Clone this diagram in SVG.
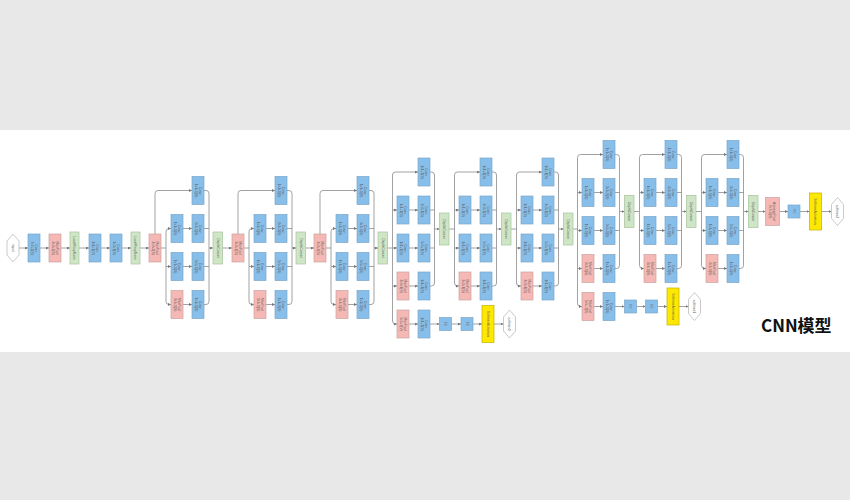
<svg xmlns="http://www.w3.org/2000/svg" width="850" height="500" viewBox="0 0 850 500">
<defs>
<style>
.b{fill:#88bfea;stroke:#7aa6c8;stroke-width:0.7}
.p{fill:#f6b8b4;stroke:#c9a3a1;stroke-width:0.7}
.g{fill:#cfe6c6;stroke:#a6c29a;stroke-width:0.7}
.y{fill:#ffe800;stroke:#c2b000;stroke-width:0.7}
.h{fill:#ffffff;stroke:#bdbdbd;stroke-width:0.8}
.t{font-family:"Liberation Sans",Arial,sans-serif;font-size:3.3px;fill:#5c5c5c;text-anchor:middle}
.c{fill:none;stroke:#8a8a8a;stroke-width:0.8}
.a{fill:none;stroke:#8a8a8a;stroke-width:0.8;marker-end:url(#ar)}
</style>
<marker id="ar" viewBox="0 0 6 6" refX="6" refY="3" markerWidth="3" markerHeight="3" orient="auto" markerUnits="userSpaceOnUse"><path d="M0,0 L6,3 L0,6 z" fill="#777"/></marker>
</defs>
<rect x="0" y="0" width="850" height="500" fill="#e8e8e8"/>
<rect x="0" y="130" width="850" height="222" fill="#ffffff"/>

<g id="connectors">
<path class="a" d="M19,248 H28"/><path class="a" d="M40,248 H49"/><path class="a" d="M61,248 H70"/><path class="a" d="M79,248 H89"/><path class="a" d="M101,248 H110"/><path class="a" d="M122,248 H131"/><path class="a" d="M140,248 H149"/>
<path class="a" d="M155,234 V193.5 Q155,190.5 158,190.5 H192"/>
<path class="a" d="M161,248 H166 V231.5 Q166,228.5 169,228.5 H171"/>
<path class="a" d="M166,248 V301.5 Q166,304.5 169,304.5 H171"/>
<path class="a" d="M166,266.5 H171"/>
<path class="a" d="M183,228.5 H192"/><path class="a" d="M183,266.5 H192"/><path class="a" d="M183,304.5 H192"/>
<path class="a" d="M204,190.5 H206 Q209,190.5 209,193.5 V248 H213"/>
<path class="c" d="M204,304.5 H206 Q209,304.5 209,301.5 V248"/>
<path class="c" d="M204,228.5 H209 M204,266.5 H209"/>
<path class="a" d="M222.5,248 H232"/>
<path class="a" d="M238,234 V193.5 Q238,190.5 241,190.5 H275"/>
<path class="a" d="M244,248 H249 V231.5 Q249,228.5 252,228.5 H254"/>
<path class="a" d="M249,248 V301.5 Q249,304.5 252,304.5 H254"/>
<path class="a" d="M249,266.5 H254"/>
<path class="a" d="M266,228.5 H275"/><path class="a" d="M266,266.5 H275"/><path class="a" d="M266,304.5 H275"/>
<path class="a" d="M287,190.5 H289 Q292,190.5 292,193.5 V248 H296"/>
<path class="c" d="M287,304.5 H289 Q292,304.5 292,301.5 V248"/>
<path class="c" d="M287,228.5 H292 M287,266.5 H292"/>
<path class="a" d="M305.5,248 H314"/>
<path class="a" d="M320,234 V193.5 Q320,190.5 323,190.5 H357"/>
<path class="a" d="M326,248 H331 V231.5 Q331,228.5 334,228.5 H336"/>
<path class="a" d="M331,248 V301.5 Q331,304.5 334,304.5 H336"/>
<path class="a" d="M331,266.5 H336"/>
<path class="a" d="M348,228.5 H357"/><path class="a" d="M348,266.5 H357"/><path class="a" d="M348,304.5 H357"/>
<path class="a" d="M369,190.5 H371 Q374,190.5 374,193.5 V248 H378"/>
<path class="c" d="M369,304.5 H371 Q374,304.5 374,301.5 V248"/>
<path class="c" d="M369,228.5 H374 M369,266.5 H374"/>
<path class="a" d="M387.5,248 H397"/>
<path class="a" d="M392.5,248 V175 Q392.5,172 395.5,172 H418"/>
<path class="a" d="M392.5,248 V321 Q392.5,324 395.5,324 H397"/>
<path class="a" d="M392.5,210 H397"/><path class="a" d="M392.5,286 H397"/>
<path class="a" d="M409,210 H418"/><path class="a" d="M409,248 H418"/><path class="a" d="M409,286 H418"/><path class="a" d="M409,324 H418"/>
<path class="a" d="M430,172 H431.5 Q434.5,172 434.5,175 V229 H439.5"/>
<path class="c" d="M430,286 H431.5 Q434.5,286 434.5,283 V229"/>
<path class="c" d="M430,210 H434.5 M430,248 H434.5"/>
<path class="a" d="M430,324 H439.5"/><path class="a" d="M451.5,324 H461"/><path class="a" d="M473,324 H482"/><path class="a" d="M494,324 H503.5"/>
<path class="c" d="M449,229 H454.5"/>
<path class="a" d="M454.5,229 V175 Q454.5,172 457.5,172 H480"/>
<path class="a" d="M454.5,229 V283 Q454.5,286 457.5,286 H459"/>
<path class="a" d="M454.5,210 H459"/><path class="a" d="M454.5,248 H459"/>
<path class="a" d="M471,210 H480"/><path class="a" d="M471,248 H480"/><path class="a" d="M471,286 H480"/>
<path class="a" d="M492,172 H493.5 Q496.5,172 496.5,175 V229 H501.5"/>
<path class="c" d="M492,286 H493.5 Q496.5,286 496.5,283 V229"/>
<path class="c" d="M492,210 H496.5 M492,248 H496.5"/>
<path class="c" d="M511,229 H516.5"/>
<path class="a" d="M516.5,229 V175 Q516.5,172 519.5,172 H542"/>
<path class="a" d="M516.5,229 V283 Q516.5,286 519.5,286 H521"/>
<path class="a" d="M516.5,210 H521"/><path class="a" d="M516.5,248 H521"/>
<path class="a" d="M533,210 H542"/><path class="a" d="M533,248 H542"/><path class="a" d="M533,286 H542"/>
<path class="a" d="M554,172 H555.5 Q558.5,172 558.5,175 V229 H563.5"/>
<path class="c" d="M554,286 H555.5 Q558.5,286 558.5,283 V229"/>
<path class="c" d="M554,210 H558.5 M554,248 H558.5"/>
<path class="c" d="M573,229 H577.5"/>
<path class="a" d="M577.5,229 V157.5 Q577.5,154.5 580.5,154.5 H603"/>
<path class="a" d="M577.5,229 V303.5 Q577.5,306.5 580.5,306.5 H582"/>
<path class="a" d="M577.5,192.5 H582"/><path class="a" d="M577.5,230.5 H582"/><path class="a" d="M577.5,268.5 H582"/>
<path class="a" d="M594,192.5 H603"/><path class="a" d="M594,230.5 H603"/><path class="a" d="M594,268.5 H603"/><path class="a" d="M594,306.5 H603"/>
<path class="a" d="M615,154.5 H616.5 Q619.5,154.5 619.5,157.5 V211.5 H624.5"/>
<path class="c" d="M615,268.5 H616.5 Q619.5,268.5 619.5,265.5 V211.5"/>
<path class="c" d="M615,192.5 H619.5 M615,230.5 H619.5"/>
<path class="a" d="M615,306.5 H624.5"/><path class="a" d="M636.5,306.5 H645.5"/><path class="a" d="M657.5,306.5 H667"/><path class="a" d="M679,306.5 H688.5"/>
<path class="c" d="M634,211.5 H639.5"/>
<path class="a" d="M639.5,211.5 V157.5 Q639.5,154.5 642.5,154.5 H665"/>
<path class="a" d="M639.5,211.5 V265.5 Q639.5,268.5 642.5,268.5 H644"/>
<path class="a" d="M639.5,192.5 H644"/><path class="a" d="M639.5,230.5 H644"/>
<path class="a" d="M656,192.5 H665"/><path class="a" d="M656,230.5 H665"/><path class="a" d="M656,268.5 H665"/>
<path class="a" d="M677,154.5 H678.5 Q681.5,154.5 681.5,157.5 V211.5 H686.5"/>
<path class="c" d="M677,268.5 H678.5 Q681.5,268.5 681.5,265.5 V211.5"/>
<path class="c" d="M677,192.5 H681.5 M677,230.5 H681.5"/>
<path class="c" d="M696,211.5 H701.5"/>
<path class="a" d="M701.5,211.5 V157.5 Q701.5,154.5 704.5,154.5 H727"/>
<path class="a" d="M701.5,211.5 V265.5 Q701.5,268.5 704.5,268.5 H706"/>
<path class="a" d="M701.5,192.5 H706"/><path class="a" d="M701.5,230.5 H706"/>
<path class="a" d="M718,192.5 H727"/><path class="a" d="M718,230.5 H727"/><path class="a" d="M718,268.5 H727"/>
<path class="a" d="M739,154.5 H740.5 Q743.5,154.5 743.5,157.5 V211.5 H748.5"/>
<path class="c" d="M739,268.5 H740.5 Q743.5,268.5 743.5,265.5 V211.5"/>
<path class="c" d="M739,192.5 H743.5 M739,230.5 H743.5"/>
<path class="a" d="M758,211.5 H765.5"/><path class="a" d="M779.5,211.5 H788"/><path class="a" d="M800,211.5 H809.5"/><path class="a" d="M821.5,211.5 H831.5"/>
</g>

<g id="input"><polygon class="h" points="7,241 13,234 19,241 19,255 13,262 7,255"/><text class="t" transform="translate(13,248) rotate(90)" y="1.2">input</text></g>
<g id="conv1"><rect class="b" x="28" y="234" width="12" height="28"/><text class="t" transform="translate(34,248) rotate(90)"><tspan x="0" y="-0.7">Conv</tspan><tspan x="0" y="3.3">7x7+2(S)</tspan></text></g>
<g id="pool1"><rect class="p" x="49" y="234" width="12" height="28"/><text class="t" transform="translate(55,248) rotate(90)"><tspan x="0" y="-0.7">MaxPool</tspan><tspan x="0" y="3.3">3x3+2(S)</tspan></text></g>
<g id="lrn1"><rect class="g" x="70" y="232" width="9" height="32"/><text class="t" transform="translate(74.5,248) rotate(90)" y="1.2">LocalRespNorm</text></g>
<g id="conv2"><rect class="b" x="89" y="234" width="12" height="28"/><text class="t" transform="translate(95,248) rotate(90)"><tspan x="0" y="-0.7">Conv</tspan><tspan x="0" y="3.3">1x1+1(V)</tspan></text></g>
<g id="conv3"><rect class="b" x="110" y="234" width="12" height="28"/><text class="t" transform="translate(116,248) rotate(90)"><tspan x="0" y="-0.7">Conv</tspan><tspan x="0" y="3.3">3x3+1(S)</tspan></text></g>
<g id="lrn2"><rect class="g" x="131" y="232" width="9" height="32"/><text class="t" transform="translate(135.5,248) rotate(90)" y="1.2">LocalRespNorm</text></g>

<g id="pool2"><rect class="p" x="149" y="234" width="12" height="28"/><text class="t" transform="translate(155,248) rotate(90)"><tspan x="0" y="-0.7">MaxPool</tspan><tspan x="0" y="3.3">3x3+2(S)</tspan></text></g>
<g id="a_top"><rect class="b" x="192" y="176.5" width="12" height="28"/><text class="t" transform="translate(198,190.5) rotate(90)"><tspan x="0" y="-0.7">Conv</tspan><tspan x="0" y="3.3">1x1+1(S)</tspan></text></g>
<g id="a_r1a"><rect class="b" x="171" y="214.5" width="12" height="28"/><text class="t" transform="translate(177,228.5) rotate(90)"><tspan x="0" y="-0.7">Conv</tspan><tspan x="0" y="3.3">1x1+1(S)</tspan></text></g>
<g id="a_r1b"><rect class="b" x="192" y="214.5" width="12" height="28"/><text class="t" transform="translate(198,228.5) rotate(90)"><tspan x="0" y="-0.7">Conv</tspan><tspan x="0" y="3.3">3x3+1(S)</tspan></text></g>
<g id="a_r2a"><rect class="b" x="171" y="252.5" width="12" height="28"/><text class="t" transform="translate(177,266.5) rotate(90)"><tspan x="0" y="-0.7">Conv</tspan><tspan x="0" y="3.3">1x1+1(S)</tspan></text></g>
<g id="a_r2b"><rect class="b" x="192" y="252.5" width="12" height="28"/><text class="t" transform="translate(198,266.5) rotate(90)"><tspan x="0" y="-0.7">Conv</tspan><tspan x="0" y="3.3">5x5+1(S)</tspan></text></g>
<g id="a_r3a"><rect class="p" x="171" y="290.5" width="12" height="28"/><text class="t" transform="translate(177,304.5) rotate(90)"><tspan x="0" y="-0.7">MaxPool</tspan><tspan x="0" y="3.3">3x3+1(S)</tspan></text></g>
<g id="a_r3b"><rect class="b" x="192" y="290.5" width="12" height="28"/><text class="t" transform="translate(198,304.5) rotate(90)"><tspan x="0" y="-0.7">Conv</tspan><tspan x="0" y="3.3">1x1+1(S)</tspan></text></g>
<g id="a_cat"><rect class="g" x="213" y="232" width="9.5" height="32"/><text class="t" transform="translate(217.75,248) rotate(90)" y="1.2">DepthConcat</text></g>

<g id="pool3"><rect class="p" x="232" y="234" width="12" height="28"/><text class="t" transform="translate(238,248) rotate(90)"><tspan x="0" y="-0.7">MaxPool</tspan><tspan x="0" y="3.3">3x3+2(S)</tspan></text></g>
<g id="b_top"><rect class="b" x="275" y="176.5" width="12" height="28"/><text class="t" transform="translate(281,190.5) rotate(90)"><tspan x="0" y="-0.7">Conv</tspan><tspan x="0" y="3.3">1x1+1(S)</tspan></text></g>
<g id="b_r1a"><rect class="b" x="254" y="214.5" width="12" height="28"/><text class="t" transform="translate(260,228.5) rotate(90)"><tspan x="0" y="-0.7">Conv</tspan><tspan x="0" y="3.3">1x1+1(S)</tspan></text></g>
<g id="b_r1b"><rect class="b" x="275" y="214.5" width="12" height="28"/><text class="t" transform="translate(281,228.5) rotate(90)"><tspan x="0" y="-0.7">Conv</tspan><tspan x="0" y="3.3">3x3+1(S)</tspan></text></g>
<g id="b_r2a"><rect class="b" x="254" y="252.5" width="12" height="28"/><text class="t" transform="translate(260,266.5) rotate(90)"><tspan x="0" y="-0.7">Conv</tspan><tspan x="0" y="3.3">1x1+1(S)</tspan></text></g>
<g id="b_r2b"><rect class="b" x="275" y="252.5" width="12" height="28"/><text class="t" transform="translate(281,266.5) rotate(90)"><tspan x="0" y="-0.7">Conv</tspan><tspan x="0" y="3.3">5x5+1(S)</tspan></text></g>
<g id="b_r3a"><rect class="p" x="254" y="290.5" width="12" height="28"/><text class="t" transform="translate(260,304.5) rotate(90)"><tspan x="0" y="-0.7">MaxPool</tspan><tspan x="0" y="3.3">3x3+1(S)</tspan></text></g>
<g id="b_r3b"><rect class="b" x="275" y="290.5" width="12" height="28"/><text class="t" transform="translate(281,304.5) rotate(90)"><tspan x="0" y="-0.7">Conv</tspan><tspan x="0" y="3.3">1x1+1(S)</tspan></text></g>
<g id="b_cat"><rect class="g" x="296" y="232" width="9.5" height="32"/><text class="t" transform="translate(300.75,248) rotate(90)" y="1.2">DepthConcat</text></g>

<g id="pool4"><rect class="p" x="314" y="234" width="12" height="28"/><text class="t" transform="translate(320,248) rotate(90)"><tspan x="0" y="-0.7">MaxPool</tspan><tspan x="0" y="3.3">3x3+2(S)</tspan></text></g>
<g id="c_top"><rect class="b" x="357" y="176.5" width="12" height="28"/><text class="t" transform="translate(363,190.5) rotate(90)"><tspan x="0" y="-0.7">Conv</tspan><tspan x="0" y="3.3">1x1+1(S)</tspan></text></g>
<g id="c_r1a"><rect class="b" x="336" y="214.5" width="12" height="28"/><text class="t" transform="translate(342,228.5) rotate(90)"><tspan x="0" y="-0.7">Conv</tspan><tspan x="0" y="3.3">1x1+1(S)</tspan></text></g>
<g id="c_r1b"><rect class="b" x="357" y="214.5" width="12" height="28"/><text class="t" transform="translate(363,228.5) rotate(90)"><tspan x="0" y="-0.7">Conv</tspan><tspan x="0" y="3.3">3x3+1(S)</tspan></text></g>
<g id="c_r2a"><rect class="b" x="336" y="252.5" width="12" height="28"/><text class="t" transform="translate(342,266.5) rotate(90)"><tspan x="0" y="-0.7">Conv</tspan><tspan x="0" y="3.3">1x1+1(S)</tspan></text></g>
<g id="c_r2b"><rect class="b" x="357" y="252.5" width="12" height="28"/><text class="t" transform="translate(363,266.5) rotate(90)"><tspan x="0" y="-0.7">Conv</tspan><tspan x="0" y="3.3">5x5+1(S)</tspan></text></g>
<g id="c_r3a"><rect class="p" x="336" y="290.5" width="12" height="28"/><text class="t" transform="translate(342,304.5) rotate(90)"><tspan x="0" y="-0.7">MaxPool</tspan><tspan x="0" y="3.3">3x3+1(S)</tspan></text></g>
<g id="c_r3b"><rect class="b" x="357" y="290.5" width="12" height="28"/><text class="t" transform="translate(363,304.5) rotate(90)"><tspan x="0" y="-0.7">Conv</tspan><tspan x="0" y="3.3">1x1+1(S)</tspan></text></g>
<g id="c_cat"><rect class="g" x="378" y="232" width="9.5" height="32"/><text class="t" transform="translate(382.75,248) rotate(90)" y="1.2">DepthConcat</text></g>

<g id="d_top"><rect class="b" x="418" y="158" width="12" height="28"/><text class="t" transform="translate(424,172) rotate(90)"><tspan x="0" y="-0.7">Conv</tspan><tspan x="0" y="3.3">1x1+1(S)</tspan></text></g>
<g id="d_r1a"><rect class="b" x="397" y="196" width="12" height="28"/><text class="t" transform="translate(403,210) rotate(90)"><tspan x="0" y="-0.7">Conv</tspan><tspan x="0" y="3.3">1x1+1(S)</tspan></text></g>
<g id="d_r1b"><rect class="b" x="418" y="196" width="12" height="28"/><text class="t" transform="translate(424,210) rotate(90)"><tspan x="0" y="-0.7">Conv</tspan><tspan x="0" y="3.3">3x3+1(S)</tspan></text></g>
<g id="d_r2a"><rect class="b" x="397" y="234" width="12" height="28"/><text class="t" transform="translate(403,248) rotate(90)"><tspan x="0" y="-0.7">Conv</tspan><tspan x="0" y="3.3">1x1+1(S)</tspan></text></g>
<g id="d_r2b"><rect class="b" x="418" y="234" width="12" height="28"/><text class="t" transform="translate(424,248) rotate(90)"><tspan x="0" y="-0.7">Conv</tspan><tspan x="0" y="3.3">5x5+1(S)</tspan></text></g>
<g id="d_r3a"><rect class="p" x="397" y="272" width="12" height="28"/><text class="t" transform="translate(403,286) rotate(90)"><tspan x="0" y="-0.7">MaxPool</tspan><tspan x="0" y="3.3">3x3+1(S)</tspan></text></g>
<g id="d_r3b"><rect class="b" x="418" y="272" width="12" height="28"/><text class="t" transform="translate(424,286) rotate(90)"><tspan x="0" y="-0.7">Conv</tspan><tspan x="0" y="3.3">1x1+1(S)</tspan></text></g>
<g id="d_auxpool"><rect class="p" x="397" y="310" width="12" height="28"/><text class="t" transform="translate(403,324) rotate(90)"><tspan x="0" y="-0.7">MaxPool</tspan><tspan x="0" y="3.3">5x5+3(V)</tspan></text></g>
<g id="d_auxconv"><rect class="b" x="418" y="310" width="12" height="28"/><text class="t" transform="translate(424,324) rotate(90)"><tspan x="0" y="-0.7">Conv</tspan><tspan x="0" y="3.3">1x1+1(S)</tspan></text></g>
<g id="d_fc1"><rect class="b" x="439.5" y="317.5" width="12" height="13"/><text class="t" transform="translate(445.5,324) rotate(90)" y="1.2">FC</text></g>
<g id="d_fc2"><rect class="b" x="461" y="317.5" width="12" height="13"/><text class="t" transform="translate(467,324) rotate(90)" y="1.2">FC</text></g>
<g id="d_sm"><rect class="y" x="482" y="305.5" width="12" height="37"/><text class="t" transform="translate(488,324) rotate(90)" y="1.2">SoftmaxActivation</text></g>
<g id="softmax0"><polygon class="h" points="503.5,317 509.5,310 515.5,317 515.5,331 509.5,338 503.5,331"/><text class="t" transform="translate(509.5,324) rotate(90)" y="1.2">softmax0</text></g>
<g id="d_cat"><rect class="g" x="439.5" y="213" width="9.5" height="32"/><text class="t" transform="translate(444.25,229) rotate(90)" y="1.2">DepthConcat</text></g>

<g id="e_top"><rect class="b" x="480" y="158" width="12" height="28"/><text class="t" transform="translate(486,172) rotate(90)"><tspan x="0" y="-0.7">Conv</tspan><tspan x="0" y="3.3">1x1+1(S)</tspan></text></g>
<g id="e_r1a"><rect class="b" x="459" y="196" width="12" height="28"/><text class="t" transform="translate(465,210) rotate(90)"><tspan x="0" y="-0.7">Conv</tspan><tspan x="0" y="3.3">1x1+1(S)</tspan></text></g>
<g id="e_r1b"><rect class="b" x="480" y="196" width="12" height="28"/><text class="t" transform="translate(486,210) rotate(90)"><tspan x="0" y="-0.7">Conv</tspan><tspan x="0" y="3.3">3x3+1(S)</tspan></text></g>
<g id="e_r2a"><rect class="b" x="459" y="234" width="12" height="28"/><text class="t" transform="translate(465,248) rotate(90)"><tspan x="0" y="-0.7">Conv</tspan><tspan x="0" y="3.3">1x1+1(S)</tspan></text></g>
<g id="e_r2b"><rect class="b" x="480" y="234" width="12" height="28"/><text class="t" transform="translate(486,248) rotate(90)"><tspan x="0" y="-0.7">Conv</tspan><tspan x="0" y="3.3">5x5+1(S)</tspan></text></g>
<g id="e_r3a"><rect class="p" x="459" y="272" width="12" height="28"/><text class="t" transform="translate(465,286) rotate(90)"><tspan x="0" y="-0.7">MaxPool</tspan><tspan x="0" y="3.3">3x3+1(S)</tspan></text></g>
<g id="e_r3b"><rect class="b" x="480" y="272" width="12" height="28"/><text class="t" transform="translate(486,286) rotate(90)"><tspan x="0" y="-0.7">Conv</tspan><tspan x="0" y="3.3">1x1+1(S)</tspan></text></g>
<g id="e_cat"><rect class="g" x="501.5" y="213" width="9.5" height="32"/><text class="t" transform="translate(506.25,229) rotate(90)" y="1.2">DepthConcat</text></g>

<g id="f_top"><rect class="b" x="542" y="158" width="12" height="28"/><text class="t" transform="translate(548,172) rotate(90)"><tspan x="0" y="-0.7">Conv</tspan><tspan x="0" y="3.3">1x1+1(S)</tspan></text></g>
<g id="f_r1a"><rect class="b" x="521" y="196" width="12" height="28"/><text class="t" transform="translate(527,210) rotate(90)"><tspan x="0" y="-0.7">Conv</tspan><tspan x="0" y="3.3">1x1+1(S)</tspan></text></g>
<g id="f_r1b"><rect class="b" x="542" y="196" width="12" height="28"/><text class="t" transform="translate(548,210) rotate(90)"><tspan x="0" y="-0.7">Conv</tspan><tspan x="0" y="3.3">3x3+1(S)</tspan></text></g>
<g id="f_r2a"><rect class="b" x="521" y="234" width="12" height="28"/><text class="t" transform="translate(527,248) rotate(90)"><tspan x="0" y="-0.7">Conv</tspan><tspan x="0" y="3.3">1x1+1(S)</tspan></text></g>
<g id="f_r2b"><rect class="b" x="542" y="234" width="12" height="28"/><text class="t" transform="translate(548,248) rotate(90)"><tspan x="0" y="-0.7">Conv</tspan><tspan x="0" y="3.3">5x5+1(S)</tspan></text></g>
<g id="f_r3a"><rect class="p" x="521" y="272" width="12" height="28"/><text class="t" transform="translate(527,286) rotate(90)"><tspan x="0" y="-0.7">MaxPool</tspan><tspan x="0" y="3.3">3x3+1(S)</tspan></text></g>
<g id="f_r3b"><rect class="b" x="542" y="272" width="12" height="28"/><text class="t" transform="translate(548,286) rotate(90)"><tspan x="0" y="-0.7">Conv</tspan><tspan x="0" y="3.3">1x1+1(S)</tspan></text></g>
<g id="f_cat"><rect class="g" x="563.5" y="213" width="9.5" height="32"/><text class="t" transform="translate(568.25,229) rotate(90)" y="1.2">DepthConcat</text></g>

<g id="g_top"><rect class="b" x="603" y="140.5" width="12" height="28"/><text class="t" transform="translate(609,154.5) rotate(90)"><tspan x="0" y="-0.7">Conv</tspan><tspan x="0" y="3.3">1x1+1(S)</tspan></text></g>
<g id="g_r1a"><rect class="b" x="582" y="178.5" width="12" height="28"/><text class="t" transform="translate(588,192.5) rotate(90)"><tspan x="0" y="-0.7">Conv</tspan><tspan x="0" y="3.3">1x1+1(S)</tspan></text></g>
<g id="g_r1b"><rect class="b" x="603" y="178.5" width="12" height="28"/><text class="t" transform="translate(609,192.5) rotate(90)"><tspan x="0" y="-0.7">Conv</tspan><tspan x="0" y="3.3">3x3+1(S)</tspan></text></g>
<g id="g_r2a"><rect class="b" x="582" y="216.5" width="12" height="28"/><text class="t" transform="translate(588,230.5) rotate(90)"><tspan x="0" y="-0.7">Conv</tspan><tspan x="0" y="3.3">1x1+1(S)</tspan></text></g>
<g id="g_r2b"><rect class="b" x="603" y="216.5" width="12" height="28"/><text class="t" transform="translate(609,230.5) rotate(90)"><tspan x="0" y="-0.7">Conv</tspan><tspan x="0" y="3.3">5x5+1(S)</tspan></text></g>
<g id="g_r3a"><rect class="p" x="582" y="254.5" width="12" height="28"/><text class="t" transform="translate(588,268.5) rotate(90)"><tspan x="0" y="-0.7">MaxPool</tspan><tspan x="0" y="3.3">3x3+1(S)</tspan></text></g>
<g id="g_r3b"><rect class="b" x="603" y="254.5" width="12" height="28"/><text class="t" transform="translate(609,268.5) rotate(90)"><tspan x="0" y="-0.7">Conv</tspan><tspan x="0" y="3.3">1x1+1(S)</tspan></text></g>
<g id="g_auxpool"><rect class="p" x="582" y="292.5" width="12" height="28"/><text class="t" transform="translate(588,306.5) rotate(90)"><tspan x="0" y="-0.7">MaxPool</tspan><tspan x="0" y="3.3">5x5+3(V)</tspan></text></g>
<g id="g_auxconv"><rect class="b" x="603" y="292.5" width="12" height="28"/><text class="t" transform="translate(609,306.5) rotate(90)"><tspan x="0" y="-0.7">Conv</tspan><tspan x="0" y="3.3">1x1+1(S)</tspan></text></g>
<g id="g_fc1"><rect class="b" x="624.5" y="300" width="12" height="13"/><text class="t" transform="translate(630.5,306.5) rotate(90)" y="1.2">FC</text></g>
<g id="g_fc2"><rect class="b" x="645.5" y="300" width="12" height="13"/><text class="t" transform="translate(651.5,306.5) rotate(90)" y="1.2">FC</text></g>
<g id="g_sm"><rect class="y" x="667" y="288" width="12" height="37"/><text class="t" transform="translate(673,306.5) rotate(90)" y="1.2">SoftmaxActivation</text></g>
<g id="softmax1"><polygon class="h" points="688.5,299.5 694.5,292.5 700.5,299.5 700.5,313.5 694.5,320.5 688.5,313.5"/><text class="t" transform="translate(694.5,306.5) rotate(90)" y="1.2">softmax1</text></g>
<g id="g_cat"><rect class="g" x="624.5" y="195.5" width="9.5" height="32"/><text class="t" transform="translate(629.25,211.5) rotate(90)" y="1.2">DepthConcat</text></g>

<g id="h_top"><rect class="b" x="665" y="140.5" width="12" height="28"/><text class="t" transform="translate(671,154.5) rotate(90)"><tspan x="0" y="-0.7">Conv</tspan><tspan x="0" y="3.3">1x1+1(S)</tspan></text></g>
<g id="h_r1a"><rect class="b" x="644" y="178.5" width="12" height="28"/><text class="t" transform="translate(650,192.5) rotate(90)"><tspan x="0" y="-0.7">Conv</tspan><tspan x="0" y="3.3">1x1+1(S)</tspan></text></g>
<g id="h_r1b"><rect class="b" x="665" y="178.5" width="12" height="28"/><text class="t" transform="translate(671,192.5) rotate(90)"><tspan x="0" y="-0.7">Conv</tspan><tspan x="0" y="3.3">3x3+1(S)</tspan></text></g>
<g id="h_r2a"><rect class="b" x="644" y="216.5" width="12" height="28"/><text class="t" transform="translate(650,230.5) rotate(90)"><tspan x="0" y="-0.7">Conv</tspan><tspan x="0" y="3.3">1x1+1(S)</tspan></text></g>
<g id="h_r2b"><rect class="b" x="665" y="216.5" width="12" height="28"/><text class="t" transform="translate(671,230.5) rotate(90)"><tspan x="0" y="-0.7">Conv</tspan><tspan x="0" y="3.3">5x5+1(S)</tspan></text></g>
<g id="h_r3a"><rect class="p" x="644" y="254.5" width="12" height="28"/><text class="t" transform="translate(650,268.5) rotate(90)"><tspan x="0" y="-0.7">MaxPool</tspan><tspan x="0" y="3.3">3x3+1(S)</tspan></text></g>
<g id="h_r3b"><rect class="b" x="665" y="254.5" width="12" height="28"/><text class="t" transform="translate(671,268.5) rotate(90)"><tspan x="0" y="-0.7">Conv</tspan><tspan x="0" y="3.3">1x1+1(S)</tspan></text></g>
<g id="h_cat"><rect class="g" x="686.5" y="195.5" width="9.5" height="32"/><text class="t" transform="translate(691.25,211.5) rotate(90)" y="1.2">DepthConcat</text></g>

<g id="i_top"><rect class="b" x="727" y="140.5" width="12" height="28"/><text class="t" transform="translate(733,154.5) rotate(90)"><tspan x="0" y="-0.7">Conv</tspan><tspan x="0" y="3.3">1x1+1(S)</tspan></text></g>
<g id="i_r1a"><rect class="b" x="706" y="178.5" width="12" height="28"/><text class="t" transform="translate(712,192.5) rotate(90)"><tspan x="0" y="-0.7">Conv</tspan><tspan x="0" y="3.3">1x1+1(S)</tspan></text></g>
<g id="i_r1b"><rect class="b" x="727" y="178.5" width="12" height="28"/><text class="t" transform="translate(733,192.5) rotate(90)"><tspan x="0" y="-0.7">Conv</tspan><tspan x="0" y="3.3">3x3+1(S)</tspan></text></g>
<g id="i_r2a"><rect class="b" x="706" y="216.5" width="12" height="28"/><text class="t" transform="translate(712,230.5) rotate(90)"><tspan x="0" y="-0.7">Conv</tspan><tspan x="0" y="3.3">1x1+1(S)</tspan></text></g>
<g id="i_r2b"><rect class="b" x="727" y="216.5" width="12" height="28"/><text class="t" transform="translate(733,230.5) rotate(90)"><tspan x="0" y="-0.7">Conv</tspan><tspan x="0" y="3.3">5x5+1(S)</tspan></text></g>
<g id="i_r3a"><rect class="p" x="706" y="254.5" width="12" height="28"/><text class="t" transform="translate(712,268.5) rotate(90)"><tspan x="0" y="-0.7">MaxPool</tspan><tspan x="0" y="3.3">3x3+1(S)</tspan></text></g>
<g id="i_r3b"><rect class="b" x="727" y="254.5" width="12" height="28"/><text class="t" transform="translate(733,268.5) rotate(90)"><tspan x="0" y="-0.7">Conv</tspan><tspan x="0" y="3.3">1x1+1(S)</tspan></text></g>
<g id="i_cat"><rect class="g" x="748.5" y="195.5" width="9.5" height="32"/><text class="t" transform="translate(753.25,211.5) rotate(90)" y="1.2">DepthConcat</text></g>

<g id="avgpool"><rect class="p" x="765.5" y="197.5" width="14" height="28"/><text class="t" transform="translate(772.5,211.5) rotate(90)"><tspan x="0" y="-0.7">AveragePool</tspan><tspan x="0" y="3.3">7x7+1(V)</tspan></text></g>
<g id="fc"><rect class="b" x="788" y="205" width="12" height="13"/><text class="t" transform="translate(794,211.5) rotate(90)" y="1.2">FC</text></g>
<g id="sm"><rect class="y" x="809.5" y="193" width="12" height="37"/><text class="t" transform="translate(815.5,211.5) rotate(90)" y="1.2">SoftmaxActivation</text></g>
<g id="softmax2"><polygon class="h" points="831.5,204.5 837.5,197.5 843.5,204.5 843.5,218.5 837.5,225.5 831.5,218.5"/><text class="t" transform="translate(837.5,211.5) rotate(90)" y="1.2">softmax2</text></g>

<g id="title"><text x="761" y="331.5" font-family="'Noto Sans CJK SC','Noto Sans',sans-serif" font-size="17" font-weight="bold" fill="#111">CNN模型</text></g>
</svg>
